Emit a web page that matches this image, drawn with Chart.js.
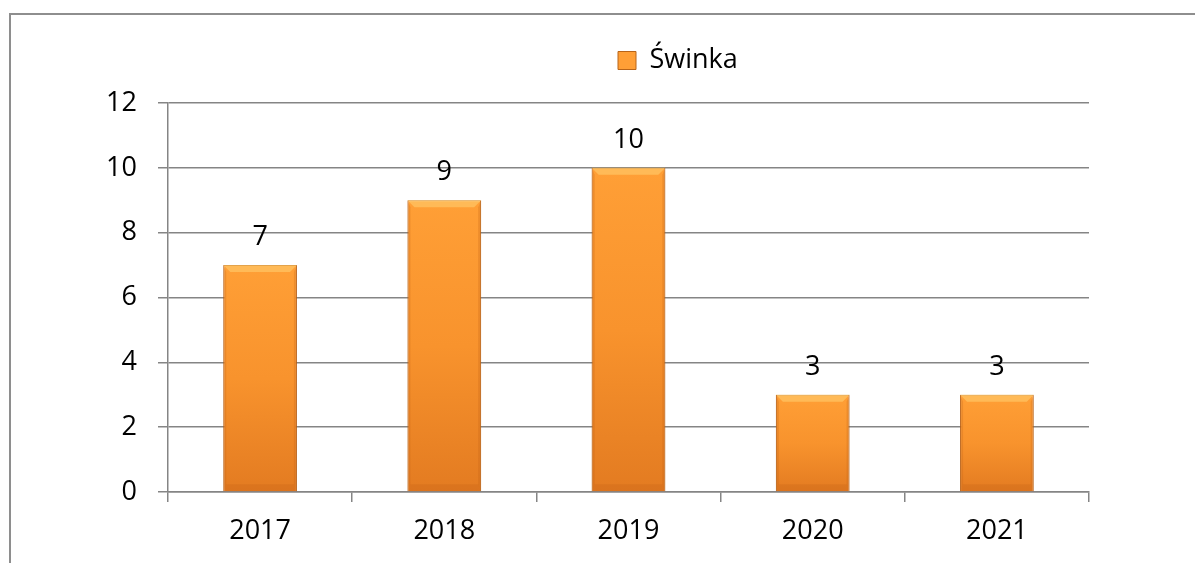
<!DOCTYPE html>
<html>
<head>
<meta charset="utf-8">
<script src="https://cdn.jsdelivr.net/npm/chart.js@4.4.0/dist/chart.umd.min.js"></script>
<style>
  html, body { margin: 0; padding: 0; background: #fff; }
  #wrap { position: relative; width: 1195px; height: 563px; overflow: hidden; }
  #ramka { position: absolute; left: 9px; top: 13px; width: 1300px; height: 700px; border: 2px solid #8e8e8e; }
  canvas { position: absolute; left: 0; top: 0; }
</style>
</head>
<body>
<div id="wrap">
  <div id="ramka"></div>
  <canvas id="wykres" width="1195" height="563"></canvas>
</div>
<script>
// dane wykresu
const lata = ['2017', '2018', '2019', '2020', '2021'];
const swinka = [7, 9, 10, 3, 3];
const nazwaSerii = 'Świnka';
const osYMax = 12;
const osYKrok = 2;

const czcionka = { family: '"Open Sans", "Noto Sans", sans-serif', size: 27 };
const szary = '#858585';

// gradient dla kazdego slupka osobno
function kolorSlupka(context) {
  const chart = context.chart;
  if (!chart.chartArea || context.type !== 'data') return '#F7922A';
  const y = chart.scales.y;
  const gora = y.getPixelForValue(context.raw);
  const dol = y.getPixelForValue(0);
  const g = chart.ctx.createLinearGradient(0, gora, 0, dol);
  g.addColorStop(0, '#FF9F36');
  g.addColorStop(0.5, '#F8932D');
  g.addColorStop(1, '#E37B21');
  return g;
}

// fazka na slupkach + etykiety z wartosciami
const fazka = {
  id: 'fazka',
  afterDatasetsDraw(chart) {
    const ctx = chart.ctx;
    const meta = chart.getDatasetMeta(0);
    meta.data.forEach((bar, i) => {
      const { x, y, base, width } = bar.getProps(['x', 'y', 'base', 'width'], true);
      const l = x - width / 2, r = x + width / 2, b = 7;
      ctx.save();
      ctx.fillStyle = 'rgba(255, 205, 110, 0.6)';
      ctx.beginPath();
      ctx.moveTo(l, y); ctx.lineTo(r, y); ctx.lineTo(r - b, y + b); ctx.lineTo(l + b, y + b);
      ctx.closePath(); ctx.fill();
      ctx.fillStyle = 'rgba(190, 95, 20, 0.25)';
      ctx.beginPath();
      ctx.moveTo(l, y); ctx.lineTo(l + 3, y + b); ctx.lineTo(l + 3, base - b); ctx.lineTo(l, base);
      ctx.closePath(); ctx.fill();
      ctx.beginPath();
      ctx.moveTo(r, y); ctx.lineTo(r - 3, y + b); ctx.lineTo(r - 3, base - b); ctx.lineTo(r, base);
      ctx.closePath(); ctx.fill();
      ctx.fillStyle = 'rgba(180, 85, 15, 0.18)';
      ctx.beginPath();
      ctx.moveTo(l, base); ctx.lineTo(r, base); ctx.lineTo(r - 3, base - b); ctx.lineTo(l + 3, base - b);
      ctx.closePath(); ctx.fill();
      ctx.restore();

      ctx.save();
      ctx.fillStyle = '#000';
      ctx.font = czcionka.size + 'px ' + czcionka.family;
      ctx.textAlign = 'center';
      ctx.textBaseline = 'alphabetic';
      ctx.fillText(String(swinka[i]), x, y - 20);
      ctx.restore();
    });
  }
};

// legenda: stala wysokosc i przesuniecie w prawo jak w oryginale
const legendaPoz = {
  id: 'legendaPoz',
  beforeLayout(chart) {
    const lg = chart.legend;
    if (lg && !lg._poprawiona) {
      const fit = lg.fit;
      lg.fit = function () { fit.call(this); this.height = 103; };
      lg._poprawiona = true;
    }
  },
  afterLayout(chart) {
    const lg = chart.legend;
    if (!lg || !lg.legendHitBoxes.length) return;
    const w = lg.legendHitBoxes[0].width;
    const srodek = 618 + w / 2;
    const pol = lg.width / 2;
    lg.left = srodek - pol;
    lg.right = srodek + pol;
  }
};

const ctx = document.getElementById('wykres');

const myChart = new Chart(ctx, {
  type: 'bar',
  data: {
    labels: lata,
    datasets: [{
      label: nazwaSerii,
      data: swinka,
      backgroundColor: kolorSlupka,
      borderColor: '#B86418',
      borderWidth: 1,
      categoryPercentage: 0.8,
      barPercentage: 0.5
    }]
  },
  options: {
    responsive: false,
    animation: false,
    layout: { padding: { left: 0, right: 106, top: 0, bottom: 0 } },
    plugins: {
      tooltip: { enabled: false },
      legend: {
        position: 'top',
        labels: { boxWidth: 18, boxHeight: 18, padding: 47, color: '#000', font: czcionka }
      }
    },
    scales: {
      x: {
        grid: { drawOnChartArea: false, drawTicks: true, tickLength: 10, offset: true, color: szary, lineWidth: 1.5 },
        border: { display: true, color: szary, width: 1.5 },
        ticks: { color: '#000', font: czcionka, padding: 13, maxRotation: 0 },
        afterFit(s) { s.height = 71; }
      },
      y: {
        min: 0,
        max: osYMax,
        ticks: { stepSize: osYKrok, color: '#000', font: czcionka, padding: 21 },
        grid: { color: szary, tickLength: 10, drawTicks: true, lineWidth: 1.5 },
        border: { display: true, color: szary, width: 1.5 },
        afterFit(s) { s.width = 168; }
      }
    }
  },
  plugins: [fazka, legendaPoz]
});
</script>
</body>
</html>
